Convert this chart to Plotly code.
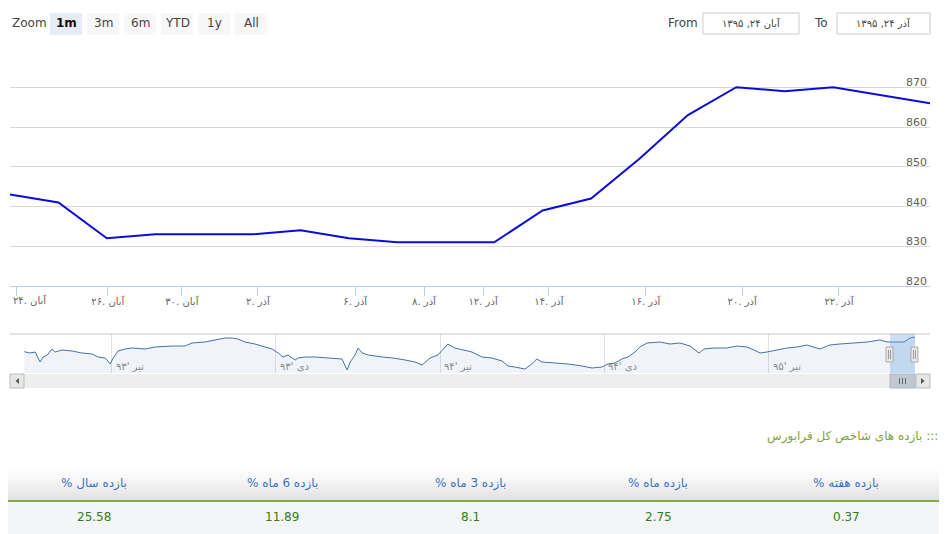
import plotly.graph_objects as go

# ── Canvas ────────────────────────────────────────────────────────────────────
W, H = 947, 534
OFF = 8          # the page puts the figure 8px in from the top-left corner
FONT = "DejaVu Sans"
RLM = "\u200f"   # keeps Persian strings reading right-to-left


def px(x):
    return (x - OFF) / W


def py(y):
    return 1 - (y - OFF) / H


# ── Data: Farabourse index, last month (one value per trading day) ────────────
index_values = [843, 841, 832, 833, 833, 833, 834, 832, 831, 831,
                831, 839, 842, 852, 863, 870, 869, 870, 868, 866]
day_pos = list(range(len(index_values)))

date_ticks = [0.14, 2.02, 3.55, 5.12, 7.13, 8.55, 9.77, 11.13, 13.13, 15.12, 17.12]
date_labels = ["آبان .۲۴", "آبان .۲۶", "آبان .۳۰", "آذر .۲", "آذر .۶", "آذر .۸",
               "آذر .۱۲", "آذر .۱۴", "آذر .۱۶", "آذر .۲۰", "آذر .۲۲"]

y_ticks = [820, 830, 840, 850, 860, 870, 880]
y_labels = ["820", "830", "840", "850", "860", "870", ""]

# ── Data: navigator (whole history, months counted from Farvardin '93) ────────
nav_month = [-0.20, 0.01, 0.20, 0.38, 0.49, 0.64, 0.82, 0.93, 1.18, 1.55,
             1.91, 2.28, 2.50, 2.76, 2.94, 3.05, 3.23, 3.49, 3.74, 4.22,
             4.58, 5.20, 5.68, 5.93, 6.41, 6.77, 7.14, 7.40, 7.61, 7.87,
             8.23, 8.60, 8.86, 9.08, 9.26, 9.44, 9.70, 9.81, 10.06, 10.43,
             10.79, 10.90, 11.41, 11.60, 11.71, 11.89, 12.00, 12.15, 12.37, 12.88,
             13.28, 13.72, 14.08, 14.34, 14.63, 14.92, 15.10, 15.28, 15.54, 15.80,
             16.16, 16.53, 16.89, 17.26, 17.48, 17.73, 18.10, 18.35, 18.53, 18.72,
             19.19, 19.67, 20.18, 20.55, 20.91, 21.13, 21.39, 21.64, 21.86, 22.12,
             22.30, 22.56, 23.03, 23.40, 23.76, 24.13, 24.46, 24.64, 25.01, 25.48,
             25.85, 26.21, 26.47, 26.69, 26.94, 27.31, 27.67, 28.04, 28.40, 28.88,
             29.24, 29.61, 30.12, 30.60, 31.07, 31.33, 31.58, 31.95, 32.17, 32.35]
nav_value = [782, 774, 780, 720, 750, 762, 798, 780, 792, 786,
             774, 768, 750, 744, 708, 744, 786, 798, 804, 798,
             810, 816, 816, 834, 840, 852, 864, 864, 858, 840,
             828, 810, 798, 774, 750, 762, 732, 744, 750, 750,
             744, 744, 738, 672, 720, 762, 804, 774, 762, 750,
             744, 732, 720, 702, 744, 762, 792, 828, 804, 792,
             780, 750, 744, 726, 696, 690, 678, 708, 738, 720,
             714, 708, 696, 684, 690, 708, 714, 738, 750, 780,
             810, 834, 840, 828, 834, 816, 774, 798, 804, 804,
             816, 810, 792, 774, 780, 792, 804, 810, 822, 798,
             822, 828, 834, 840, 852, 840, 840, 840, 864, 870]
nav_ticks = [3, 9, 15, 21, 27]
nav_labels = ["تیر '۹۳", "دی '۹۳", "تیر '۹۴", "دی '۹۴", "تیر '۹۵"]
sel_start, sel_end = 31.44, 32.35   # the month shown in the main chart

# ── Data: returns table ───────────────────────────────────────────────────────
periods = ["بازده سال %", "بازده 6 ماه %", "بازده 3 ماه %", "بازده ماه %", "بازده هفته %"]
returns = [25.58, 11.89, 8.1, 2.75, 0.37]

zoom_buttons = ["1m", "3m", "6m", "YTD", "1y", "All"]
from_date = "آبان ۲۴, ۱۳۹۵"
to_date = "آذر ۲۴, ۱۳۹۵"

# ── Figure ────────────────────────────────────────────────────────────────────
fig = go.Figure()

fig.add_trace(go.Scatter(
    x=day_pos, y=index_values, mode="lines",
    line=dict(color="#0c0cd8", width=2),
    hoverinfo="y", showlegend=False,
))

fig.add_trace(go.Scatter(
    x=nav_month, y=nav_value, mode="lines",
    xaxis="x2", yaxis="y2",
    line=dict(color="#4572a7", width=1),
    fill="tozeroy", fillcolor="rgba(69,114,167,0.08)",
    hoverinfo="skip", showlegend=False,
))

shapes = []
annotations = []


def rect(x0, y0, x1, y1, fill, line=None, width=1, layer="above", xref="paper"):
    shapes.append(dict(
        type="rect", xref=xref, yref="paper",
        x0=px(x0) if xref == "paper" else x0,
        x1=px(x1) if xref == "paper" else x1,
        y0=py(y0), y1=py(y1),
        fillcolor=fill, layer=layer,
        line=dict(color=line or fill, width=width if line else 0),
    ))


def text(x, y, s, size=12, color="#333", anchor="center", bold=False, xref="paper", xshift=0):
    annotations.append(dict(
        x=px(x) if xref == "paper" else x, y=py(y), xref=xref, yref="paper",
        text=f"<b>{s}</b>" if bold else s, showarrow=False,
        xanchor=anchor, yanchor="middle", xshift=xshift,
        font=dict(family=FONT, size=size, color=color),
    ))


# ── Range selector + date inputs ──────────────────────────────────────────────
text(10, 23, "Zoom", size=12, color="#444", anchor="left")
for i, lab in enumerate(zoom_buttons):
    x0 = 50 + i * 37
    rect(x0, 13, x0 + 32, 35, "#e6ebf5" if i == 0 else "#f7f7f7")
    text(x0 + 16, 23, lab, size=12, color="#111" if i == 0 else "#444", bold=(i == 0))

text(666, 23, "From", size=12, color="#444", anchor="left")
rect(703, 13, 799, 34, "white", line="#cccccc")
text(751, 23, from_date, size=10, color="#444")
text(812, 23, "To", size=12, color="#444", anchor="left")
rect(837, 13, 930, 34, "white", line="#cccccc")
text(883, 23, to_date, size=10, color="#444")

# first date label sits flush with the left edge (kept inside the chart)
text(date_ticks[0], 300, date_labels[0], size=10, color="#666", anchor="left",
     xref="x", xshift=-6)
axis_labels = [""] + date_labels[1:]

# ── Navigator decorations ─────────────────────────────────────────────────────
shapes.append(dict(type="line", xref="paper", yref="paper",
                   x0=px(10), x1=px(930), y0=py(334), y1=py(334),
                   line=dict(color="#c4c4c4", width=1)))
rect(sel_start, 373, sel_end, 334, "rgba(110,160,225,0.35)", xref="x2")
for xa in (sel_start, sel_end):
    shapes.append(dict(type="rect", xref="x2", yref="paper", xsizemode="pixel",
                       xanchor=xa, x0=-4, x1=3, y0=py(362), y1=py(347),
                       fillcolor="#ebe7e8", line=dict(color="#a9a9ad", width=1)))
    for dx in (-1.5, 0.5):
        shapes.append(dict(type="line", xref="x2", yref="paper", xsizemode="pixel",
                           xanchor=xa, x0=dx, x1=dx, y0=py(359), y1=py(350),
                           line=dict(color="#999999", width=1)))
for tv, lab in zip(nav_ticks, nav_labels):
    text(tv, 366, lab, size=10, color="#888", anchor="left", xref="x2", xshift=2)

# scrollbar
rect(10, 374, 930, 388, "#eeeeee")
rect(10, 374, 24, 388, "#e6e6e6", line="#bbbbbb")
rect(916, 374, 930, 388, "#e6e6e6", line="#bbbbbb")
shapes.append(dict(type="path", xref="paper", yref="paper",
                   path=f"M {px(15.5)} {py(381)} L {px(19)} {py(378)} L {px(19)} {py(384)} Z",
                   fillcolor="#555", line=dict(width=0)))
shapes.append(dict(type="path", xref="paper", yref="paper",
                   path=f"M {px(924.5)} {py(381)} L {px(921)} {py(378)} L {px(921)} {py(384)} Z",
                   fillcolor="#555", line=dict(width=0)))
rect(sel_start, 374, sel_end, 388, "#bfc8d1", line="#b0b8c2", xref="x2")
for dx in (-3, 0, 3):
    shapes.append(dict(type="line", xref="x2", yref="paper", xsizemode="pixel",
                       xanchor=(sel_start + sel_end) / 2, x0=dx, x1=dx,
                       y0=py(384), y1=py(378), line=dict(color="#666", width=1)))

# ── Returns table ─────────────────────────────────────────────────────────────
text(940, 436, RLM + "::: بازده های شاخص کل فرابورس" + RLM, size=12,
     color="#80a33c", anchor="right")

bands = 12
for b in range(bands):
    y0 = 466 + b * 34 / bands
    g = int(255 - 28 * (b / (bands - 1)) ** 1.3)
    rect(0, y0, 940, y0 + 34 / bands + 0.6, f"rgb({g},{g},{g + 1})", layer="below")
rect(0, 502, 940, 534, "#f4f5f7", layer="below")
shapes.append(dict(type="line", xref="paper", yref="paper",
                   x0=px(0), x1=px(940), y0=py(501), y1=py(501),
                   line=dict(color="#84ad48", width=2)))

col_w = 940 / len(periods)
for i, (p, r) in enumerate(zip(periods, returns)):
    cx = col_w * (i + 0.5)
    text(cx, 483, RLM + p + RLM, size=12, color="#3a74bf")
    text(cx, 517, f"{r}", size=12, color="#2f7d1f")

# ── Layout ────────────────────────────────────────────────────────────────────
fig.update_layout(
    width=W, height=H,
    margin=dict(l=0, r=0, t=0, b=0, autoexpand=False),
    paper_bgcolor="white", plot_bgcolor="rgba(0,0,0,0)",
    font=dict(family=FONT, color="#555"),
    showlegend=False,
    hovermode="x",
    xaxis=dict(
        domain=[px(10), px(930)], range=[0, len(index_values) - 1],
        anchor="y", tickmode="array", tickvals=date_ticks, ticktext=axis_labels,
        ticks="outside", ticklen=9, tickcolor="#c0d0e0", ticklabelstandoff=-3,
        showline=True, linecolor="#c0d0e0", showgrid=False, zeroline=False,
        tickfont=dict(family=FONT, size=10, color="#666"),
        automargin=False, fixedrange=True,
    ),
    yaxis=dict(
        domain=[py(286), py(47.5)], range=[820, 880], anchor="x",
        side="right", tickmode="array", tickvals=y_ticks, ticktext=y_labels,
        ticklabelposition="inside top", ticklabelshift=3, ticklabeloverflow="allow",
        gridcolor="#d9d9d9", gridwidth=1,
        zeroline=False, showline=False, ticks="",
        tickfont=dict(family=FONT, size=11, color="#606060"),
        automargin=False, fixedrange=True,
    ),
    xaxis2=dict(
        domain=[px(10), px(930)], range=[-0.72, 32.9], anchor="y2",
        tickmode="array", tickvals=nav_ticks, showticklabels=False,
        showgrid=True, gridcolor="#e2e2e2", zeroline=False, showline=False,
        ticks="", automargin=False, fixedrange=True,
    ),
    yaxis2=dict(
        domain=[py(373), py(334)], range=[654, 888], anchor="x2",
        showticklabels=False, showgrid=False, zeroline=False,
        automargin=False, fixedrange=True,
    ),
    shapes=shapes,
    annotations=annotations,
)

fig.write_html("out.html")
